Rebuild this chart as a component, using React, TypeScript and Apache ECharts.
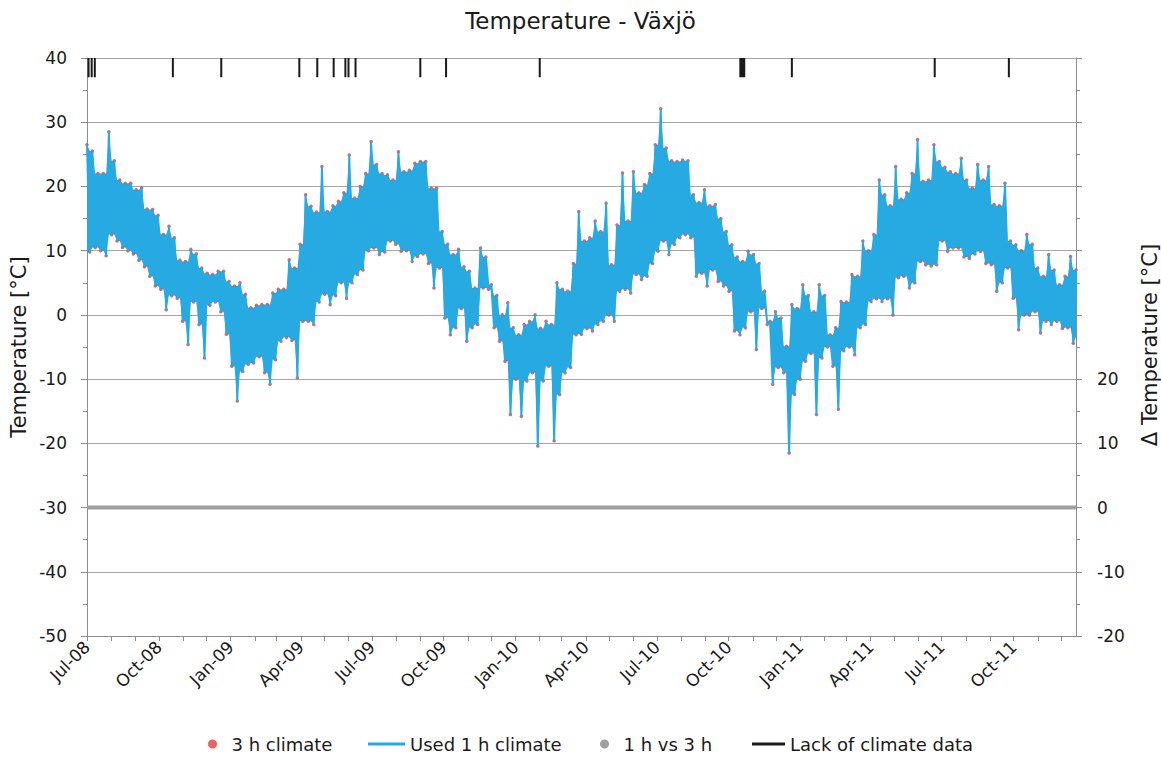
import React, { useEffect, useRef } from "react";
import * as echarts from "echarts";

// ---- data ----
const startDate = "2008-07-01";
const endDate = "2011-12-20";

// weekly upper / lower envelope of the temperature trace (°C), one entry per week from startDate
const weeklyHigh = [
  26.5, 25.5, 22, 22, 28.5, 24, 21, 20.5, 20.5, 19.5, 19.8, 16.5, 16.4, 15.5, 12.5, 13.8, 12, 8.5, 8.3, 10.2,
  9.5, 7.3, 6.5, 6.3, 6.8, 6.8, 5.2, 4.5, 5, 3.2, 1.1, 1.5, 1.6, 1.6, 3.4, 4, 4, 8.6, 7.3, 11,
  18.7, 16.9, 16, 23.1, 16.1, 17, 17.7, 19, 24.9, 18.2, 20, 22, 27, 23.4, 22, 21.8, 21, 25.4, 22.3, 22.5,
  23.6, 23.9, 23.9, 19.7, 19.7, 13, 11, 9.4, 10.2, 7.5, 6.8, 4.2, 10.4, 9, 4.7, 3, 0, 1.9, -2, -3.1,
  -1.5, -1, 0, -2.1, -1, -1.5, 5, 4, 3.7, 8, 16.1, 11.5, 12, 14.6, 13, 17.4, 7.8, 14, 22.1, 14.6,
  22.3, 19, 20.3, 22, 26.5, 32.1, 26, 24, 23.9, 24.1, 24, 18.7, 17.5, 19.5, 17, 17.2, 15, 13, 10.9, 9,
  8.3, 9.9, 9.4, 8, 3.7, -1, 0.5, -0.5, -4.9, 1.6, 1, 4.7, 3, 0.5, 4.7, 3, -3.1, -2, 2.1, 2,
  6.3, 6, 11.5, 10, 12.5, 21, 18.7, 17, 23.1, 18, 19, 22, 27.3, 20.8, 21, 26.5, 23.9, 23, 22.3, 22,
  24.4, 21, 19.7, 23.4, 21, 23.1, 17.2, 17, 20.5, 11.5, 10.9, 10, 12.5, 11, 7.3, 6, 9.4, 7, 4.7, 6,
  9.1, 7,
];
const weeklyLow = [
  9.8, 10.5, 10, 9.2, 12.5, 11.5, 10.5, 10, 9.5, 8.5, 7.5, 6, 4.5, 4, 0.8, 3, 2.6, -1, -4.6, 2,
  -1.5, -6.7, 1.5, 2, 0.5, -3, -8, -13.4, -8.8, -7.7, -7.5, -6.5, -9, -10.8, -7, -4.1, -3.5, -4, -9.8, -1,
  -1, -1.5, 2, 3.2, 1.6, 3, 5, 2.6, 5, 6.3, 7, 10, 10.4, 9.4, 9.8, 11.5, 11, 9.9, 10, 8.3,
  9.1, 9.5, 8, 4.2, 7.3, -0.5, -3.1, -2, 1, -4.1, -2, -1.5, 4.2, 4, -2, -4.1, -7.2, -15.5, -10, -15.8,
  -10.3, -9, -20.4, -10.3, -8, -19.6, -12.4, -9, -8.2, -3.1, -3, -2.1, -2.5, -1.5, -1, 0, -1, 3.7, 4, 3.4,
  6.3, 5.5, 6, 8, 9.9, 11.5, 9.4, 11, 12, 12.5, 12, 6, 6.5, 4.5, 7, 5.2, 4.5, 3.7, -2.5, -3.1,
  -2, 0.5, -5.4, 1, -1.5, -10.8, -8.2, -9, -21.5, -12.4, -10, -7.2, -6, -15.5, -6.7, -5, -8, -14.7, -5.6, -5,
  -6.2, -2, -1.5, 2.1, 2.5, 2.1, 2.5, 0, 5.8, 6, 4.2, 5, 8.3, 7.8, 7.6, 7.8, 11.5, 9.9, 10.4, 10.4,
  9, 8.8, 9.5, 9.9, 8, 7.8, 3.7, 5, 7.3, 2.6, -2.3, 0, 0, 0.5, -2.8, -1, -1.5, -1, -2.1, -2,
  -4.4, -3.5,
];

// 1 h vs 3 h difference (Δ °C, right axis)
const diffDates = ["2008-07-01", "2011-12-20"];
const diffValues = [0, 0];

// dates with missing climate data (black marks at the top)
const gapDates = [
  "2008-07-03", "2008-07-07", "2008-07-11", "2008-10-19", "2008-12-20", "2009-03-30", "2009-04-22",
  "2009-05-13", "2009-05-28", "2009-06-01", "2009-06-10", "2009-09-01", "2009-10-04", "2010-02-01",
  "2010-10-16", "2010-10-17", "2010-10-18", "2010-10-19", "2010-10-20", "2010-10-21", "2010-12-21",
  "2011-06-22", "2011-09-25",
];
const gapTop = 40;
const gapBottom = 37;

const monthNames = ["Jan", "Feb", "Mar", "Apr", "May", "Jun", "Jul", "Aug", "Sep", "Oct", "Nov", "Dec"];
const seriesNames = ["3 h climate", "Used 1 h climate", "1 h vs 3 h", "Lack of climate data"];

const FONT = '"DejaVu Sans", Verdana, sans-serif';
const TEXT = "#1a1a1a";
const AXIS = "#8c8c8c";
const BLUE = "#27aae1";
const DAY = 86400000;

function ymd(d: string): [number, number, number] {
  const [y, m, dd] = d.split("-").map(Number);
  return [y, m - 1, dd];
}
// days since startDate
function dayOf(d: string): number {
  const [y, m, dd] = ymd(d);
  const [y0, m0, d0] = ymd(startDate);
  return Math.round((Date.UTC(y, m, dd) - Date.UTC(y0, m0, d0)) / DAY);
}
function labelOf(day: number): string {
  const [y0, m0, d0] = ymd(startDate);
  const dt = new Date(Date.UTC(y0, m0, d0) + Math.round(day) * DAY);
  return monthNames[dt.getUTCMonth()] + "-" + String(dt.getUTCFullYear()).slice(2);
}

export default function App() {
  const ref = useRef<HTMLDivElement>(null);

  useEffect(() => {
    if (!ref.current) return;
    const chart = echarts.init(ref.current, null, { renderer: "svg" });
    const xMax = dayOf(endDate);
    const n = weeklyHigh.length;

    // trace: weekly high then weekly low
    const tempData: [number, number][] = [];
    weeklyHigh.forEach((h, k) => {
      tempData.push([7 * k, h]);
      tempData.push([7 * k + 3.5, weeklyLow[k]]);
    });

    // the dense hourly trace fills the area between the envelopes
    const bandUpper: [number, number][] = [];
    const bandLower: [number, number][] = [];
    weeklyHigh.forEach((h, k) => {
      bandUpper.push([7 * k, h]);
      bandLower.push([7 * k, Math.min(h, Math.max(k > 0 ? weeklyLow[k - 1] : weeklyLow[k], weeklyLow[k]))]);
      bandUpper.push([7 * k + 3.5, Math.max(weeklyLow[k], Math.min(h, k + 1 < n ? weeklyHigh[k + 1] : h))]);
      bandLower.push([7 * k + 3.5, weeklyLow[k]]);
    });

    const gapData: any[] = [];
    gapDates.forEach((d) => {
      const x = dayOf(d);
      gapData.push([x, gapTop], [x, gapBottom], [x, "-"]);
    });

    const diffData = diffDates.map((d, i) => [dayOf(d), diffValues[i]]);

    const monthTicks: number[] = [];
    const quarterTicks: number[] = [];
    for (let y = 2008, m = 6; ; m++) {
      if (m > 11) { m = 0; y++; }
      const x = dayOf(`${y}-${m + 1}-1`);
      if (x > xMax) break;
      monthTicks.push(x);
      if (m % 3 === 0) quarterTicks.push(x);
    }

    const textStyle = { fontFamily: FONT, fontSize: 18, color: TEXT };
    const legendBase = { top: 735, padding: 0, orient: "horizontal", symbolKeepAspect: true, textStyle };

    chart.setOption({
      animation: false,
      backgroundColor: "#ffffff",
      title: {
        text: "Temperature - Växjö",
        left: "center",
        top: 4,
        textStyle: { fontFamily: FONT, fontSize: 23, fontWeight: "normal", color: TEXT },
      },
      grid: { left: 87, right: 85, top: 58, bottom: 122 },
      legend: [
        { ...legendBase, left: 208, itemWidth: 28, itemHeight: 9, data: [{ name: seriesNames[0], icon: "circle" }] },
        { ...legendBase, left: 368, itemWidth: 37, itemHeight: 3, data: [{ name: seriesNames[1], icon: "rect" }] },
        { ...legendBase, left: 600, itemWidth: 28, itemHeight: 9, data: [{ name: seriesNames[2], icon: "circle" }] },
        { ...legendBase, left: 752, itemWidth: 33, itemHeight: 3, data: [{ name: seriesNames[3], icon: "rect" }] },
      ],
      graphic: [
        {
          type: "text", x: 19, y: 347, rotation: Math.PI / 2,
          style: { text: "Temperature [°C]", fontFamily: FONT, fontSize: 21, fill: TEXT, textAlign: "center", textVerticalAlign: "middle" },
        },
        {
          type: "text", x: 1150, y: 345, rotation: Math.PI / 2,
          style: { text: "Δ Temperature [°C]", fontFamily: FONT, fontSize: 21, fill: TEXT, textAlign: "center", textVerticalAlign: "middle" },
        },
      ],
      xAxis: {
        type: "value",
        min: 0,
        max: xMax,
        axisLine: { show: true, onZero: false, lineStyle: { color: AXIS } },
        axisTick: { show: true, length: 5, customValues: monthTicks, lineStyle: { color: AXIS } },
        axisLabel: {
          customValues: quarterTicks,
          rotate: 45,
          margin: 8,
          fontFamily: FONT,
          fontSize: 17,
          color: TEXT,
          formatter: (v: number) => labelOf(v),
        },
        splitLine: { show: false },
      },
      yAxis: [
        {
          type: "value", min: -50, max: 40, interval: 10, position: "left",
          axisLine: { show: true, lineStyle: { color: AXIS } },
          axisTick: { show: true, length: 6, lineStyle: { color: AXIS } },
          minorTick: { show: true, splitNumber: 2, length: 4, lineStyle: { color: AXIS } },
          axisLabel: { fontFamily: FONT, fontSize: 17, color: TEXT, margin: 20 },
          splitLine: { show: true, lineStyle: { color: "#a6a6a6", width: 1 } },
        },
        {
          type: "value", min: -20, max: 70, interval: 10, position: "right",
          axisLine: { show: true, lineStyle: { color: AXIS } },
          axisTick: { show: true, length: 6, lineStyle: { color: AXIS } },
          minorTick: { show: true, splitNumber: 2, length: 4, lineStyle: { color: AXIS } },
          axisLabel: {
            fontFamily: FONT, fontSize: 17, color: TEXT, margin: 21,
            formatter: (v: number) => (v <= 20 ? String(v) : ""),
          },
          splitLine: { show: false },
        },
      ],
      series: [
        {
          type: "custom", silent: true, z: 1, clip: true, data: [[0, 0]],
          renderItem: (params: any, api: any) => {
            if (params.dataIndex !== 0) return null;
            const pts = bandUpper.map((p) => api.coord(p))
              .concat(bandLower.slice().reverse().map((p) => api.coord(p)));
            return { type: "polygon", shape: { points: pts }, style: { fill: BLUE } };
          },
        },
        {
          name: seriesNames[0], type: "scatter", data: tempData, symbol: "circle", symbolSize: 3.5,
          itemStyle: { color: "#e8393c" }, z: 2,
        },
        {
          name: seriesNames[1], type: "line", data: tempData, symbol: "none",
          lineStyle: { color: BLUE, width: 2 }, itemStyle: { color: BLUE }, z: 3,
        },
        {
          name: seriesNames[2], type: "line", yAxisIndex: 1, data: diffData, symbol: "none",
          lineStyle: { color: "#a0a0a0", width: 4 }, itemStyle: { color: "#a0a0a0" }, z: 2,
        },
        {
          name: seriesNames[3], type: "line", data: gapData, symbol: "none", connectNulls: false,
          lineStyle: { color: "#1a1a1a", width: 2 }, itemStyle: { color: "#1a1a1a" }, z: 4,
        },
      ],
    });

    return () => chart.dispose();
  }, []);

  return <div ref={ref} style={{ position: "fixed", left: 0, top: 0, width: 1161, height: 758 }} />;
}
